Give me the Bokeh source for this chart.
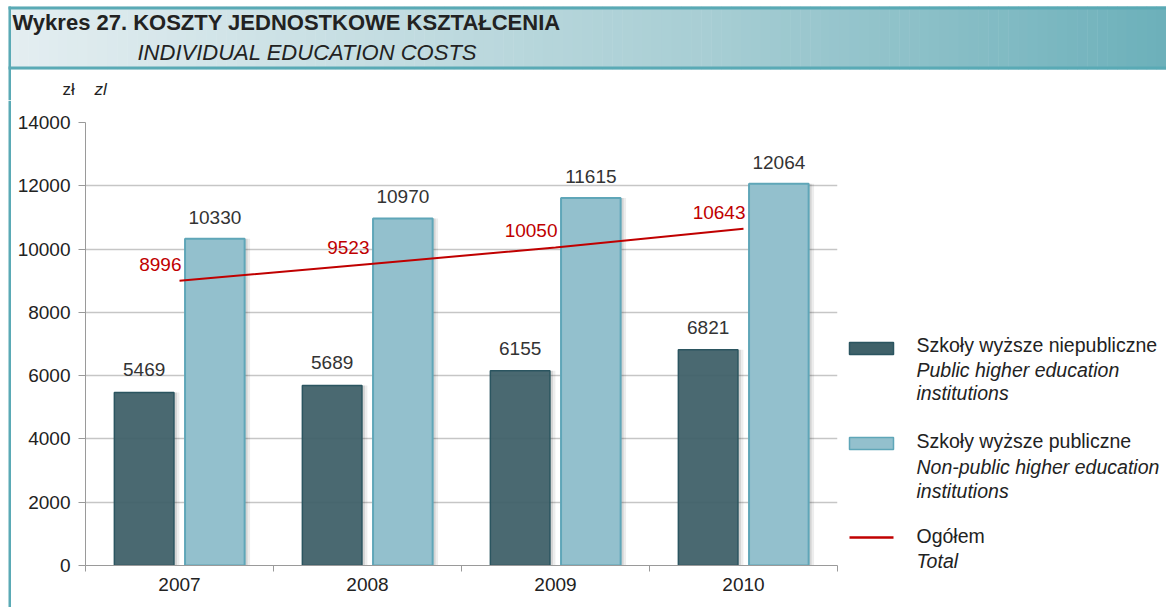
from bokeh.plotting import figure
from bokeh.models import Range1d, FixedTicker
from bokeh.layouts import column, row
from bokeh.embed import file_html
from bokeh.resources import INLINE
from bokeh.core.properties import value

# ---------------- data ----------------
years = ["2007", "2008", "2009", "2010"]
non_public = [5469, 5689, 6155, 6821]        # Szkoły wyższe niepubliczne (dark)
public = [10330, 10970, 11615, 12064]        # Szkoły wyższe publiczne (light)
total = [8996, 9523, 10050, 10643]           # Ogółem
y_ticks = [0, 2000, 4000, 6000, 8000, 10000, 12000, 14000]

title_pl = "Wykres 27. KOSZTY JEDNOSTKOWE KSZTAŁCENIA"
title_en = "INDIVIDUAL EDUCATION COSTS"
unit_pl = "zł"
unit_en = "zl"
legend_pl = ["Szkoły wyższe niepubliczne", "Szkoły wyższe publiczne", "Ogółem"]
legend_en = [["Public higher education", "institutions"],
             ["Non-public higher education", "institutions"],
             ["Total"]]

# ---------------- style ----------------
FONT = "Liberation Sans"
TEAL = "#5aaab5"
DARK_FILL = "#3f6169"
DARK_LINE = "#2b5560"
LIGHT_FILL = "#93c0cd"
LIGHT_LINE = "#5fa6b8"
RED = "#c00000"
TXT = "#222222"
W, H = 1166, 607
HH = 100                # header height (band + unit row)
BAND = 69               # teal band bottom
BH = H - HH             # body height
SW = 11                 # left strip width
PW = 830                # main chart width
LW = W - SW - PW        # legend width


def blank(width, height, xr, yr, **kw):
    f = figure(width=width, height=height, x_range=xr, y_range=yr,
               output_backend="svg", toolbar_location=None, min_border=0,
               x_axis_location=None, y_axis_location=None, outline_line_color=None, **kw)
    f.grid.visible = False
    return f


# ---------------- header ----------------
hdr = blank(W, HH, Range1d(0, W), Range1d(HH, 0))


def lerp(c1, c2, t):
    a = [int(c1[i:i + 2], 16) for i in (1, 3, 5)]
    b = [int(c2[i:i + 2], 16) for i in (1, 3, 5)]
    return "#%02x%02x%02x" % tuple(int(round(a[k] + (b[k] - a[k]) * t)) for k in range(3))


stops = [(0.0, "#e4eef1"), (0.6, "#a8ced4"), (1.0, "#6cb0ba")]
n = 117
ls, rs, cs = [], [], []
for i in range(n):
    f = (i + 0.5) / n
    for j in range(len(stops) - 1):
        if stops[j][0] <= f <= stops[j + 1][0]:
            t = (f - stops[j][0]) / (stops[j + 1][0] - stops[j][0])
            cs.append(lerp(stops[j][1], stops[j + 1][1], t))
            break
    ls.append(8 + i * (W - 8) / n)
    rs.append(8 + (i + 1) * (W - 8) / n + 0.5)
hdr.quad(left=ls, right=rs, top=[6] * n, bottom=[BAND] * n, fill_color=cs, line_color=None)
hdr.quad(left=[8], right=[W], top=[6], bottom=[9], fill_color=TEAL, line_color=None)
hdr.quad(left=[8], right=[W], top=[66], bottom=[BAND], fill_color=TEAL, line_color=None)
hdr.quad(left=[8], right=[10.5], top=[6], bottom=[HH], fill_color=TEAL, line_color=None)
hdr.text(x=[12], y=[22], text=[title_pl], text_font=value(FONT), text_font_size="22px",
         text_font_style="bold", text_color=TXT, text_baseline="middle")
hdr.text(x=[137], y=[52], text=[title_en], text_font=value(FONT), text_font_size="22px",
         text_font_style="italic", text_color=TXT, text_baseline="middle")
hdr.text(x=[62], y=[89], text=[unit_pl], text_font=value(FONT), text_font_size="17px",
         text_color=TXT, text_baseline="middle")
hdr.text(x=[94], y=[89], text=[unit_en], text_font=value(FONT), text_font_size="17px",
         text_font_style="italic", text_color=TXT, text_baseline="middle")

# ---------------- left border strip ----------------
strip = blank(SW, BH, Range1d(0, SW), Range1d(0, 1))
strip.quad(left=[8], right=[10.5], top=[1], bottom=[0], fill_color=TEAL, line_color=None)

# ---------------- main chart ----------------
p = figure(width=PW, height=BH, x_range=Range1d(0, len(years)), y_range=Range1d(0, 14000),
           output_backend="svg", toolbar_location=None,
           min_border_left=74, min_border_right=4, min_border_top=22, min_border_bottom=42,
           outline_line_color=None)

xc = [i + 0.5 for i in range(len(years))]
off, bw = 0.188, 0.317
x_dark = [x - off for x in xc]
x_light = [x + off for x in xc]

p.xgrid.grid_line_color = None
p.ygrid.ticker = FixedTicker(ticks=y_ticks)
p.ygrid.grid_line_color = "#c6c6c6"
p.ygrid.grid_line_width = 1.5

# soft shadows
for dx, extra, a in [(0.014, 0.03, 0.07), (0.01, 0.012, 0.10)]:
    p.vbar(x=[x + dx for x in x_dark], width=bw + extra, top=non_public, bottom=0,
           fill_color="black", fill_alpha=a, line_color=None)
    p.vbar(x=[x + dx for x in x_light], width=bw + extra, top=public, bottom=0,
           fill_color="black", fill_alpha=a, line_color=None)

p.vbar(x=x_light, width=bw, top=public, bottom=0, fill_color=LIGHT_FILL,
       line_color=LIGHT_LINE, line_width=2)
p.vbar(x=x_dark, width=bw, top=non_public, bottom=0, fill_color=DARK_FILL, fill_alpha=0.93,
       line_color=DARK_LINE, line_width=1.5)

p.line(x=xc, y=total, line_color=RED, line_width=2)

p.text(x=x_dark, y=non_public, text=[str(v) for v in non_public], text_align="center",
       text_baseline="bottom", y_offset=-16, text_font=value(FONT), text_font_size="19px",
       text_color="#333333")
p.text(x=x_light, y=public, text=[str(v) for v in public], text_align="center",
       text_baseline="bottom", y_offset=-15, text_font=value(FONT), text_font_size="19px",
       text_color="#333333")
p.text(x=xc, y=total, text=[str(v) for v in total], text_align="right",
       text_baseline="bottom", y_offset=-10, x_offset=2, text_font=value(FONT),
       text_font_size="19px", text_color=RED)

# axes
p.yaxis.ticker = FixedTicker(ticks=y_ticks)
p.yaxis.minor_tick_line_color = None
p.yaxis.major_tick_in = 0
p.yaxis.major_tick_out = 7
p.yaxis.major_tick_line_color = "#9a9a9a"
p.yaxis.axis_line_color = "#9a9a9a"
p.yaxis.major_label_text_font = FONT
p.yaxis.major_label_text_font_size = "19px"
p.yaxis.major_label_text_color = TXT
p.yaxis.major_label_standoff = 8

p.xaxis.ticker = FixedTicker(ticks=xc, minor_ticks=list(range(len(years) + 1)))
p.xaxis.major_label_overrides = {x: y for x, y in zip(xc, years)}
p.xaxis.major_tick_line_color = None
p.xaxis.minor_tick_in = 0
p.xaxis.minor_tick_out = 6
p.xaxis.minor_tick_line_color = "#9a9a9a"
p.xaxis.axis_line_color = "#9a9a9a"
p.xaxis.major_label_text_font = FONT
p.xaxis.major_label_text_font_size = "19px"
p.xaxis.major_label_text_color = TXT
p.xaxis.major_label_standoff = 6

# ---------------- legend ----------------
lg = blank(LW, BH, Range1d(0, LW), Range1d(BH, 0))
oy = HH  # page offset of the legend figure

lg.quad(left=[8], right=[52], top=[342 - oy], bottom=[354 - oy], fill_color=DARK_FILL,
        line_color=DARK_LINE, line_width=1.5)
lg.quad(left=[8], right=[52], top=[437 - oy], bottom=[449 - oy], fill_color=LIGHT_FILL,
        line_color=LIGHT_LINE, line_width=1.5)
lg.line(x=[8, 52], y=[537 - oy, 537 - oy], line_color=RED, line_width=2.5)

tx = 75
rows_y = [[344, 369, 392], [440, 466, 490], [535, 560]]
for k in range(3):
    lg.text(x=[tx], y=[rows_y[k][0] - oy], text=[legend_pl[k]], text_font=value(FONT),
            text_font_size="19.5px", text_color=TXT, text_baseline="middle")
    for m, line in enumerate(legend_en[k]):
        lg.text(x=[tx], y=[rows_y[k][m + 1] - oy], text=[line], text_font=value(FONT),
                text_font_size="19.5px", text_font_style="italic", text_color=TXT,
                text_baseline="middle")

layout = column(hdr, row(strip, column(p), lg))
open("out.html", "w").write(file_html(layout, INLINE))
